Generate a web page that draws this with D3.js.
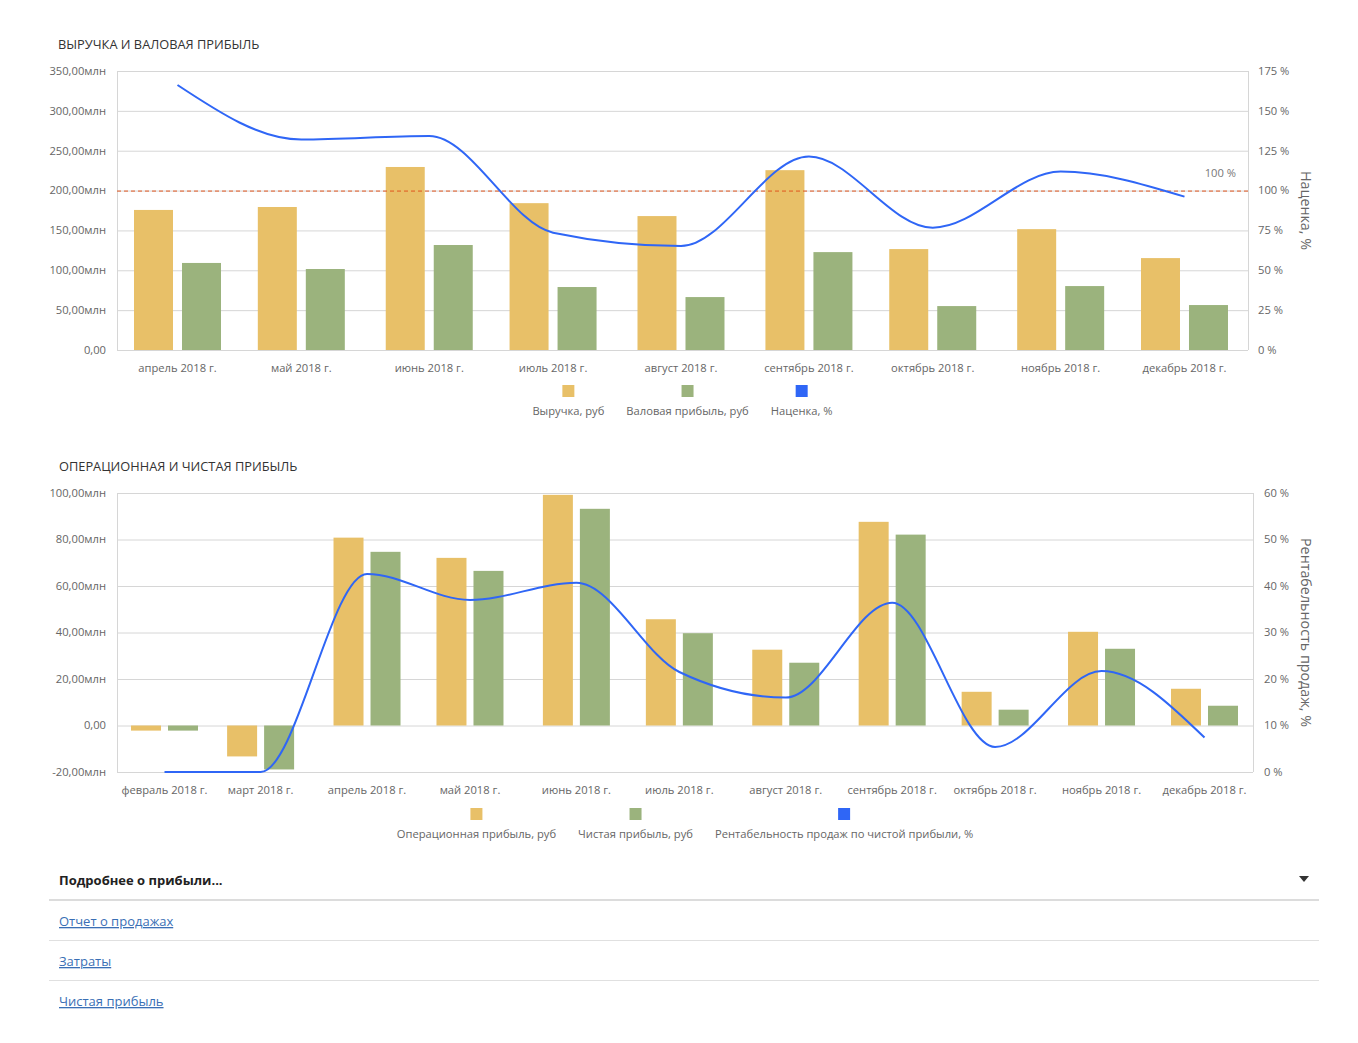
<!DOCTYPE html>
<html><head><meta charset="utf-8">
<script src="https://cdn.jsdelivr.net/npm/d3@7/dist/d3.min.js"></script>
<style>
body{margin:0;background:#fff;font-family:"Open Sans","Noto Sans",sans-serif;}
svg text{font-family:"Open Sans","Noto Sans",sans-serif;}
</style></head>
<body>
<svg id="c" width="1358" height="1043"></svg>
<script>
// ---------- DATA ----------
const topMonths = ["2018-04","2018-05","2018-06","2018-07","2018-08","2018-09","2018-10","2018-11","2018-12"];
const topLabels = ["апрель 2018 г.","май 2018 г.","июнь 2018 г.","июль 2018 г.","август 2018 г.","сентябрь 2018 г.","октябрь 2018 г.","ноябрь 2018 г.","декабрь 2018 г."];
const revenue = [175.7,179.4,229.6,184.2,168.0,225.6,126.6,151.6,115.3];
const grossProfit = [109.2,101.6,131.7,79.0,66.4,122.8,55.1,80.2,56.4];
const markup = [166.2,132.0,134.2,73.6,65.2,121.3,76.7,111.9,96.2];
const topLeftTicks = [0,50,100,150,200,250,300,350];
const topRightTicks = [0,25,50,75,100,125,150,175];
const markupTarget = 100;

const botMonths = ["2018-02","2018-03","2018-04","2018-05","2018-06","2018-07","2018-08","2018-09","2018-10","2018-11","2018-12"];
const botLabels = ["февраль 2018 г.","март 2018 г.","апрель 2018 г.","май 2018 г.","июнь 2018 г.","июль 2018 г.","август 2018 г.","сентябрь 2018 г.","октябрь 2018 г.","ноябрь 2018 г.","декабрь 2018 г."];
const opProfit = [-2.2,-13.3,80.8,72.1,99.2,45.7,32.6,87.6,14.5,40.3,15.8];
const netProfit = [-2.2,-18.9,74.7,66.5,93.2,39.7,27.0,82.1,6.8,33.0,8.5];
const netMargin = [0,0,42.6,37.0,40.7,21.5,16.0,36.4,5.4,21.7,7.4];
const botLeftTicks = [-20,0,20,40,60,80,100];
const botRightTicks = [0,10,20,30,40,50,60];

const topLegend = ["Выручка, руб","Валовая прибыль, руб","Наценка, %"];
const botLegend = ["Операционная прибыль, руб","Чистая прибыль, руб","Рентабельность продаж по чистой прибыли, %"];
const links = ["Отчет о продажах","Затраты","Чистая прибыль"];

// ---------- STYLE ----------
const C_GOLD = "#e8c068", C_GREEN = "#9bb37d", C_BLUE = "#2f66f6", C_GRID = "#d6d6d6", C_TXT = "#666";
const FS = 11.2;
const DAY = 864e5;
const loc = d3.formatLocale({decimal:",", thousands:" ", grouping:[3], currency:["",""], minus:"-"});
const fmtMln = v => v === 0 ? "0,00" : loc.format(".2f")(v) + "млн";
const fmtPct = v => v + " %";
const parse = s => { const [y,m] = s.split("-").map(Number); return new Date(Date.UTC(y, m-1, 1)); };

const svg = d3.select("#c");

function drawChart(o){
  const g = svg.append("g");
  const dates = o.months.map(parse);
  const x = d3.scaleUtc()
    .domain([new Date(+dates[0] - o.padL*DAY), new Date(+dates[dates.length-1] + o.padR*DAY)])
    .range([o.x0, o.x1]);
  const yL = d3.scaleLinear().domain(o.lDom).range([o.y1, o.y0]);
  const yR = d3.scaleLinear().domain(o.rDom).range([o.y1, o.y0]);

  // title
  g.append("text").attr("x", o.titleX).attr("y", o.titleY).attr("font-size", 12.8).attr("fill", "#333").text(o.title);

  // grid
  g.selectAll(".grid").data(o.lTicks).join("line")
    .attr("x1", o.x0).attr("x2", o.x1).attr("y1", d => yL(d)+0.5).attr("y2", d => yL(d)+0.5)
    .attr("stroke", C_GRID).attr("stroke-width", 1);
  g.append("line").attr("x1", o.x0+0.5).attr("x2", o.x0+0.5).attr("y1", o.y0).attr("y2", o.y1).attr("stroke", C_GRID);
  g.append("line").attr("x1", o.x1+0.5).attr("x2", o.x1+0.5).attr("y1", o.y0).attr("y2", o.y1).attr("stroke", C_GRID);

  // left ticks
  g.selectAll(".lt").data(o.lTicks).join("text")
    .attr("x", o.x0-11).attr("y", d => yL(d)).attr("dy", "0.35em").attr("text-anchor", "end")
    .attr("font-size", FS).attr("fill", C_TXT).text(fmtMln);
  // right ticks
  g.selectAll(".rt").data(o.rTicks).join("text")
    .attr("x", o.x1+o.rTickOff).attr("y", d => yR(d)).attr("dy", "0.35em")
    .attr("font-size", FS).attr("fill", C_TXT).text(fmtPct);
  // right title
  g.append("text").attr("transform", `translate(${o.rTitleX},${(o.y0+o.y1)/2}) rotate(90)`)
    .attr("text-anchor", "middle").attr("dy", "0.35em").attr("font-size", 14.3).attr("fill", C_TXT).text(o.rTitle);

  // x labels
  g.selectAll(".xl").data(dates).join("text")
    .attr("x", d => x(d)).attr("y", o.y1+22).attr("text-anchor", "middle")
    .attr("font-size", FS).attr("fill", C_TXT).text((d,i) => o.labels[i]);

  // bars
  const bw = o.barW, gap = o.barGap;
  g.selectAll(".b1").data(o.s1).join("rect")
    .attr("x", (d,i) => x(dates[i]) - gap/2 - bw).attr("width", bw)
    .attr("y", d => Math.min(yL(d), yL(0))).attr("height", d => Math.abs(yL(d)-yL(0)))
    .attr("fill", C_GOLD);
  g.selectAll(".b2").data(o.s2).join("rect")
    .attr("x", (d,i) => x(dates[i]) + gap/2).attr("width", bw)
    .attr("y", d => Math.min(yL(d), yL(0))).attr("height", d => Math.abs(yL(d)-yL(0)))
    .attr("fill", C_GREEN);

  // target line
  if (o.target !== undefined){
    g.append("line").attr("x1", o.x0).attr("x2", o.x1).attr("y1", yR(o.target)+0.5).attr("y2", yR(o.target)+0.5)
      .attr("stroke", "#e0561f").attr("stroke-width", 1).attr("stroke-dasharray", "4,3");
    g.append("text").attr("x", o.x1-12).attr("y", yR(o.target)-14).attr("text-anchor", "end")
      .attr("font-size", FS).attr("fill", "#777").text(fmtPct(o.target));
  }

  // line
  const line = d3.line().x((d,i) => x(dates[i])).y(d => yR(d)).curve(d3.curveMonotoneX);
  g.append("path").datum(o.s3).attr("d", line).attr("fill", "none").attr("stroke", C_BLUE).attr("stroke-width", 2);

  // legend
  const lg = g.append("g");
  const colors = [C_GOLD, C_GREEN, C_BLUE];
  const items = lg.selectAll("g").data(o.legend).join("g");
  items.append("text").attr("font-size", FS).attr("fill", C_TXT).attr("text-anchor", "middle")
    .attr("y", o.legY+24).text(d => d);
  const widths = [];
  items.select("text").each(function(){ widths.push(this.getComputedTextLength()); });
  const gapL = 22;
  const total = d3.sum(widths) + gapL*(widths.length-1);
  let cx = (o.x0+o.x1)/2 - total/2;
  items.each(function(d,i){
    const c = cx + widths[i]/2; cx += widths[i] + gapL;
    d3.select(this).attr("transform", `translate(${c},0)`);
    d3.select(this).append("rect").attr("x", -6).attr("y", o.legY-6).attr("width", 12).attr("height", 12).attr("fill", colors[i]);
  });
}

drawChart({
  title:"ВЫРУЧКА И ВАЛОВАЯ ПРИБЫЛЬ", titleX:58, titleY:49,
  months:topMonths, labels:topLabels, padL:14.66, padR:15.39,
  x0:117, x1:1248, y0:71, y1:350, lDom:[0,350], rDom:[0,175],
  lTicks:topLeftTicks, rTicks:topRightTicks, rTickOff:10, rTitle:"Наценка, %", rTitleX:1306,
  s1:revenue, s2:grossProfit, s3:markup, barW:39, barGap:9, target:markupTarget,
  legend:topLegend, legY:391
});
drawChart({
  title:"ОПЕРАЦИОННАЯ И ЧИСТАЯ ПРИБЫЛЬ", titleX:59, titleY:471,
  months:botMonths, labels:botLabels, padL:13.84, padR:14.13,
  x0:117, x1:1253, y0:493, y1:772, lDom:[-20,100], rDom:[0,60],
  lTicks:botLeftTicks, rTicks:botRightTicks, rTickOff:11, rTitle:"Рентабельность продаж, %", rTitleX:1306,
  s1:opProfit, s2:netProfit, s3:netMargin, barW:30, barGap:7,
  legend:botLegend, legY:814
});

// ---------- details section ----------
const sec = svg.append("g");
sec.append("text").attr("x", 59).attr("y", 885).attr("font-size", 13).attr("font-weight", "bold").attr("fill", "#222").text("Подробнее о прибыли...");
sec.append("path").attr("d", "M1299,876 L1309,876 L1304,882 Z").attr("fill", "#333");
sec.append("line").attr("x1", 49).attr("x2", 1319).attr("y1", 900).attr("y2", 900).attr("stroke", "#dcdcdc").attr("stroke-width", 2);
const rowY = [921, 961, 1001];
sec.selectAll(".lk").data(links).join("text")
  .attr("x", 59).attr("y", (d,i) => rowY[i]+5).attr("font-size", 13).attr("fill", "#3a6fb5")
  .attr("text-decoration", "underline").text(d => d);
sec.selectAll(".sep").data([940, 980]).join("line")
  .attr("x1", 49).attr("x2", 1319).attr("y1", d => d+0.5).attr("y2", d => d+0.5).attr("stroke", "#e0e0e0");
</script>
</body></html>
